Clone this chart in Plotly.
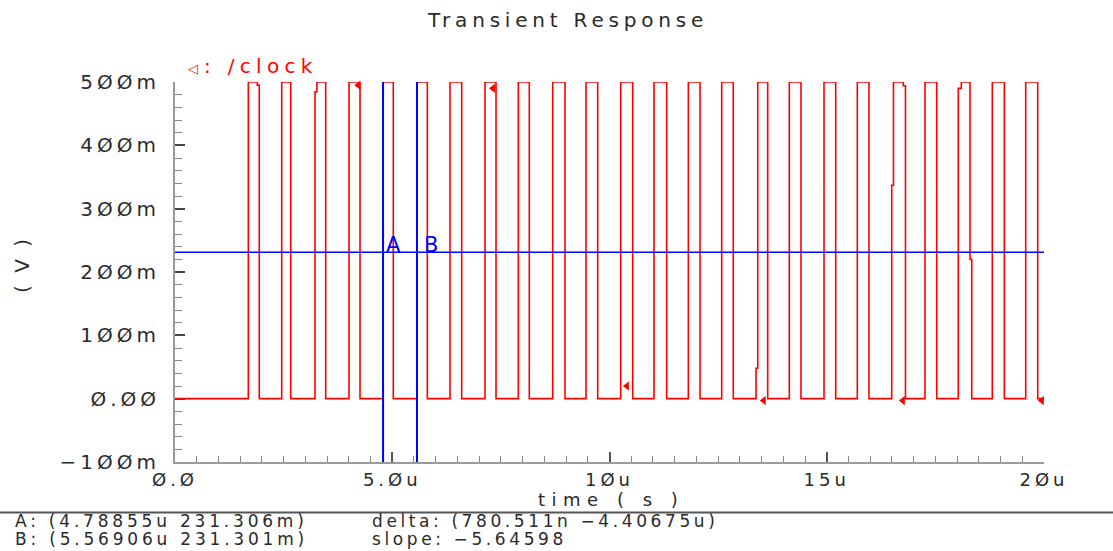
import plotly.graph_objects as go

# ---------------- data (time in microseconds, voltage in volts) ----------------
rise_us = [1.687, 2.456, 3.222, 4.005, 4.789, 5.569, 6.329, 7.135, 7.901, 8.693,
           9.459, 10.258, 11.024, 11.814, 12.582, 13.372, 14.138, 14.937, 15.703,
           16.495, 17.261, 18.027, 18.810, 19.579]
fall_us = [1.894, 2.663, 3.468, 4.258, 5.024, 5.807, 6.598, 7.388, 8.154, 8.976,
           9.728, 10.534, 11.316, 12.083, 12.849, 13.641, 14.407, 15.206, 15.972,
           16.762, 17.531, 18.297, 19.087, 19.855]
v_low = 0.0
v_high = 0.5
t_start = 0.0
t_end = 20.0

# small jogs seen on some edges: pulse index, edge, level (V), time shift (us)
kink_pulse = [0, 2, 15, 19, 19, 21, 21]
kink_edge = ["fall", "rise", "rise", "rise", "fall", "rise", "fall"]
kink_level = [0.495, 0.4845, 0.048, 0.337, 0.494, 0.49, 0.22]
kink_shift = [0.045, 0.045, 0.04, 0.04, 0.05, 0.07, 0.04]

marker_x = [4.22, 7.32, 10.40, 13.55, 16.75, 19.95]
marker_y = [0.495, 0.490, 0.020, -0.003, -0.003, -0.003]

cursor_names = ["A", "B"]
cursor_x = [4.78855, 5.56906]
cursor_y = 0.231306

x_tickvals = [0, 5, 10, 15, 20]
x_ticktext = ["Ø.Ø", "5.Øu", "1Øu", "15u", "2Øu"]
y_tickvals = [-0.1, 0.0, 0.1, 0.2, 0.3, 0.4, 0.5]
y_ticktext = ["\u22121ØØm", "Ø.ØØ", "1ØØm", "2ØØm", "3ØØm", "4ØØm", "5ØØm"]

title_text = "Transient Response"
legend_text = ": /clock"
x_title = "time ( s )"
y_title = "( V )"
info_lines_left = ["A: (4.78855u 231.306m)", "B: (5.56906u 231.301m)"]
info_lines_right = ["delta: (780.511n \u22124.40675u)", "slope: \u22125.64598"]

# ---------------- build waveform ----------------
wx, wy = [t_start], [v_low]
for i, (r, f) in enumerate(zip(rise_us, fall_us)):
    # rising edge
    xc = r
    wx.append(xc); wy.append(v_low)
    ks = sorted([(kink_level[k], kink_shift[k]) for k in range(len(kink_pulse))
                 if kink_pulse[k] == i and kink_edge[k] == "rise"])
    for lvl, sh in ks:
        wx.append(xc); wy.append(lvl)
        xc += sh
        wx.append(xc); wy.append(lvl)
    wx.append(xc); wy.append(v_high)
    # falling edge
    xc = f
    wx.append(xc); wy.append(v_high)
    ks = sorted([(kink_level[k], kink_shift[k]) for k in range(len(kink_pulse))
                 if kink_pulse[k] == i and kink_edge[k] == "fall"], reverse=True)
    for lvl, sh in ks:
        wx.append(xc); wy.append(lvl)
        xc += sh
        wx.append(xc); wy.append(lvl)
    wx.append(xc); wy.append(v_low)
wx.append(t_end)
wy.append(v_low)

FONT = "DejaVu Sans"
TXT = "#2a2a2a"


def sp(text, px):
    return f'<span style="letter-spacing:{px}px">{text}</span>'


# plot area in pixels
W, H = 1113, 551
L, R, T, B = 175, 69, 82, 89
PW, PH = W - L - R, H - T - B


def px_x(px):
    return (px - L) / PW


def px_y(py):
    return (H - B - py) / PH


fig = go.Figure()

fig.add_trace(go.Scatter(x=wx, y=wy, mode="lines",
                         line=dict(color="#ff0000", width=1.6),
                         cliponaxis=False, showlegend=False, hoverinfo="skip"))
fig.add_trace(go.Scatter(x=marker_x, y=marker_y, mode="markers",
                         marker=dict(symbol="triangle-left", size=8, color="#ff0000"),
                         cliponaxis=False, showlegend=False, hoverinfo="skip"))

# cursors
for cx in cursor_x:
    fig.add_trace(go.Scatter(x=[cx, cx], y=[y_tickvals[0], y_tickvals[-1]], mode="lines",
                             line=dict(color="#0000ff", width=2),
                             cliponaxis=False, showlegend=False, hoverinfo="skip"))
fig.add_trace(go.Scatter(x=[t_start, t_end], y=[cursor_y, cursor_y], mode="lines",
                         line=dict(color="#0000ff", width=1.5),
                         cliponaxis=False, showlegend=False, hoverinfo="skip"))

for name, cx, shift in zip(cursor_names, cursor_x, [1, 5]):
    fig.add_annotation(x=cx, y=cursor_y, xref="x", yref="y", text=sp(name, 0),
                       showarrow=False, xanchor="left", yanchor="bottom",
                       xshift=shift, yshift=-7,
                       font=dict(family=FONT, size=21, color="#0000ff"))

# title
fig.add_annotation(x=px_x(567), y=px_y(20), xref="paper", yref="paper",
                   text=sp(title_text, 4.8), showarrow=False,
                   xanchor="center", yanchor="middle",
                   font=dict(family=FONT, size=20, color=TXT))
# legend
fig.add_annotation(x=px_x(193), y=px_y(68), xref="paper", yref="paper",
                   text="\u25C1", showarrow=False, xanchor="center", yanchor="middle",
                   font=dict(family=FONT, size=13, color="#ff0000"))
fig.add_annotation(x=px_x(202), y=px_y(66), xref="paper", yref="paper",
                   text=sp(legend_text, 5.3), showarrow=False,
                   xanchor="left", yanchor="middle",
                   font=dict(family=FONT, size=20, color="#ff0000"))
# axis titles
fig.add_annotation(x=px_x(611), y=px_y(499), xref="paper", yref="paper",
                   text=sp(x_title, 6.5), showarrow=False,
                   xanchor="center", yanchor="middle",
                   font=dict(family=FONT, size=18, color=TXT))
fig.add_annotation(x=px_x(22), y=px_y(265), xref="paper", yref="paper",
                   text=sp(y_title, 3), showarrow=False, textangle=-90,
                   xanchor="center", yanchor="middle",
                   font=dict(family=FONT, size=20, color=TXT))

# info lines
for i, (lt, rt) in enumerate(zip(info_lines_left, info_lines_right)):
    ypx = 521 + i * 18
    fig.add_annotation(x=px_x(13), y=px_y(ypx), xref="paper", yref="paper",
                       text=sp(lt, 3.8), showarrow=False,
                       xanchor="left", yanchor="middle",
                       font=dict(family=FONT, size=17, color=TXT))
    fig.add_annotation(x=px_x(370), y=px_y(ypx), xref="paper", yref="paper",
                       text=sp(rt, 3.6), showarrow=False,
                       xanchor="left", yanchor="middle",
                       font=dict(family=FONT, size=17, color=TXT))

# separator line
fig.add_shape(type="line", xref="paper", yref="paper",
              x0=px_x(0), x1=px_x(W), y0=px_y(512.5), y1=px_y(512.5),
              line=dict(color="#555555", width=2))

fig.update_layout(
    width=W, height=H,
    margin=dict(l=L, r=R, t=T, b=B, pad=0),
    paper_bgcolor="white", plot_bgcolor="white",
    showlegend=False,
    xaxis=dict(range=[t_start, t_end], showgrid=False, zeroline=False,
               showline=True, linecolor="#9a9a9a", linewidth=2, layer="below traces",
               ticks="inside", ticklen=10, tickwidth=1.5, tickcolor="#555555",
               tickmode="array", tickvals=x_tickvals,
               ticktext=[sp(t, 4) for t in x_ticktext],
               ticklabelstandoff=0,
               tickfont=dict(family=FONT, size=18, color=TXT),
               minor=dict(dtick=0.5, tick0=0, ticks="inside", ticklen=6,
                          tickwidth=1.2, tickcolor="#888888", showgrid=False)),
    yaxis=dict(range=[y_tickvals[0], y_tickvals[-1]], showgrid=False, zeroline=False,
               showline=True, linecolor="#9a9a9a", linewidth=2, layer="below traces",
               ticks="inside", ticklen=10, tickwidth=1.5, tickcolor="#444444",
               tickmode="array", tickvals=y_tickvals,
               ticktext=[sp(t, 4) for t in y_ticktext],
               ticklabelstandoff=9,
               tickfont=dict(family=FONT, size=20, color=TXT),
               minor=dict(dtick=0.02, tick0=0, ticks="inside", ticklen=7,
                          tickwidth=1.2, tickcolor="#888888", showgrid=False)),
)

fig.write_html("out.html")
